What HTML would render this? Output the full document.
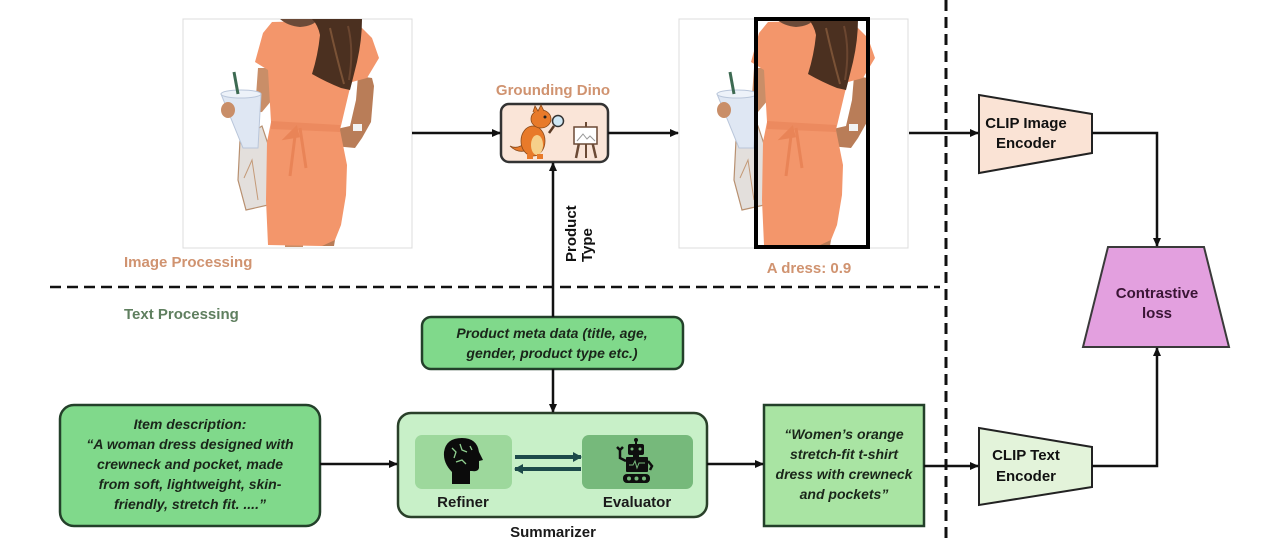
<!DOCTYPE html>
<html>
<head>
<meta charset="utf-8">
<style>
  html,body{margin:0;padding:0;background:#fff;}
  body{width:1280px;height:544px;overflow:hidden;}
  svg{display:block;}
  text{font-family:"Liberation Sans",Arial,sans-serif;font-weight:bold;}
</style>
</head>
<body>
<svg width="1280" height="544" viewBox="0 0 1280 544" xmlns="http://www.w3.org/2000/svg">
  <defs>
    <marker id="ah" markerWidth="9" markerHeight="8" refX="8" refY="4" orient="auto" markerUnits="userSpaceOnUse">
      <path d="M0,0 L9,4 L0,8 Z" fill="#111"/>
    </marker>
    <marker id="aht" markerWidth="9" markerHeight="10" refX="8" refY="5" orient="auto" markerUnits="userSpaceOnUse">
      <path d="M0,0 L9,5 L0,10 Z" fill="#1d4a4a"/>
    </marker>
    <g id="woman">
      <!-- bag -->
      <path d="M240,140 L262,126 L270,150 L268,205 L246,210 L238,180 Z" fill="#e3dfdc" stroke="#b89070" stroke-width="1.2"/>
      <path d="M244,178 L252,160 L258,200" fill="none" stroke="#c49a78" stroke-width="1"/>
      <!-- left upper arm / forearm -->
      <path d="M258,68 L270,68 L272,100 L262,112 L236,114 L234,102 L256,96 Z" fill="#c98e68"/>
      <!-- cup -->
      <path d="M221,94 L261,94 L258,148 L243,148 Z" fill="#dfe7f3" stroke="#b9c6da" stroke-width="1"/>
      <ellipse cx="241" cy="94" rx="20" ry="4" fill="#edf2f9" stroke="#b9c6da" stroke-width="1"/>
      <path d="M234,72 L238,94" stroke="#3d6a52" stroke-width="3"/>
      <ellipse cx="228" cy="110" rx="7" ry="8" fill="#c98e68"/>
      <!-- right arm -->
      <path d="M358,76 L372,78 L374,86 L371,122 L362,138 L355,148 L334,146 L332,130 L350,126 L356,100 Z" fill="#b97d58"/>
      <rect x="353" y="124" width="9" height="7" fill="#f2f2f2"/>
      <!-- legs -->
      <rect x="285" y="236" width="18" height="11" fill="#c98e68"/>
      <path d="M320,222 L338,222 L334,246 L321,246 Z" fill="#b97d58"/>
      <!-- dress -->
      <path d="M272,22 L263,33 L255,62 L268,70 L271,122 L267,142 L266,200 L268,245 L322,246 L335,240 L341,225 L346,195 L347,165 L340,130 L349,92 L352,82 L367,78 L379,58 L372,38 L362,28 L352,20 Z" fill="#f3966b"/>
      <!-- chin / face shadow -->
      <path d="M280,19 L318,19 Q314,26 300,27 Q288,26 280,19 Z" fill="#6b4a38"/>
      <!-- belt -->
      <path d="M271,121 L340,125 L340,132 L271,129 Z" fill="#ec8a5f"/>
      <path d="M296,128 L290,176 M300,128 L306,168 M296,128 L286,138 L298,136 Z" stroke="#e98457" stroke-width="3" fill="#e98457"/>
      <!-- hair -->
      <path d="M312,19 L362,19 Q362,40 357,62 Q353,78 350,90 L341,88 Q326,82 312,74 Q318,55 320,35 Q318,25 312,19 Z" fill="#4b3020"/>
      <path d="M330,28 Q336,55 344,84" stroke="#7a5236" stroke-width="2" fill="none"/>
      <path d="M348,26 Q354,50 349,80" stroke="#6b4630" stroke-width="2" fill="none"/>
    </g>
  </defs>

  <!-- dashed separators -->
  <line x1="50" y1="287" x2="940" y2="287" stroke="#111" stroke-width="2.5" stroke-dasharray="11 6"/>
  <line x1="946" y1="0" x2="946" y2="544" stroke="#111" stroke-width="3" stroke-dasharray="11 6"/>

  <!-- images -->
  <rect x="183" y="19" width="229" height="229" fill="#fff" stroke="#dcdcdc" stroke-width="1"/>
  <use href="#woman"/>
  <rect x="679" y="19" width="229" height="229" fill="#fff" stroke="#dcdcdc" stroke-width="1"/>
  <use href="#woman" transform="translate(496,0)"/>
  <rect x="756" y="19" width="112" height="228" fill="none" stroke="#000" stroke-width="4"/>

  <!-- labels -->
  <text x="124" y="267" font-size="15" fill="#d09370">Image Processing</text>
  <text x="124" y="319" font-size="15" fill="#5f7f5f">Text Processing</text>
  <text x="553" y="95" font-size="15" fill="#d09370" text-anchor="middle">Grounding Dino</text>
  <text x="809" y="273" font-size="15" fill="#d09370" text-anchor="middle">A dress: 0.9</text>

  <!-- dino box -->
  <rect x="501" y="104" width="107" height="58" rx="8" fill="#fae5d8" stroke="#333" stroke-width="2.5"/>
  <g>
    <path d="M528,150 Q518,154 510,146 Q518,150 526,142 Z" fill="#e87a2a" stroke="#8a4a1a" stroke-width="0.8"/>
    <ellipse cx="533" cy="141" rx="12" ry="15" fill="#e87a2a" stroke="#8a4a1a" stroke-width="0.8"/>
    <ellipse cx="537" cy="145" rx="6" ry="10" fill="#f6d08a"/>
    <ellipse cx="541" cy="119" rx="10" ry="9" fill="#e87a2a" stroke="#8a4a1a" stroke-width="0.8"/>
    <path d="M533,112 L535,106 L538,111 L541,105 L544,111" fill="#e87a2a" stroke="#8a4a1a" stroke-width="0.8"/>
    <circle cx="545" cy="117" r="1.5" fill="#222"/>
    <rect x="527" y="154" width="6" height="5" fill="#e87a2a"/>
    <rect x="537" y="154" width="6" height="5" fill="#e87a2a"/>
    <circle cx="558" cy="121" r="5.5" fill="#cfe8f5" stroke="#333" stroke-width="1.5"/>
    <line x1="554" y1="126" x2="549" y2="133" stroke="#5a3a25" stroke-width="2.5"/>
    <line x1="576" y1="158" x2="582" y2="128" stroke="#6b4a35" stroke-width="2.5"/>
    <line x1="596" y1="158" x2="589" y2="128" stroke="#6b4a35" stroke-width="2.5"/>
    <line x1="586" y1="122" x2="586" y2="158" stroke="#6b4a35" stroke-width="2"/>
    <rect x="574" y="127" width="23" height="17" fill="#fff" stroke="#6b4a35" stroke-width="1.5"/>
    <path d="M577,141 L583,134 L587,139 L590,136 L595,141" fill="none" stroke="#999" stroke-width="1"/>
  </g>

  <!-- Product Type rotated -->
  <text transform="translate(576,262) rotate(-90)" font-size="15" fill="#111">Product</text>
  <text transform="translate(592,262) rotate(-90)" font-size="15" fill="#111">Type</text>

  <!-- CLIP encoders -->
  <polygon points="979,95 1092,114 1092,153 979,173" fill="#fae3d5" stroke="#222" stroke-width="2"/>
  <text x="1026" y="128" font-size="15" fill="#111" text-anchor="middle">CLIP Image</text>
  <text x="1026" y="148" font-size="15" fill="#111" text-anchor="middle">Encoder</text>

  <polygon points="979,428 1092,447 1092,487 979,505" fill="#e3f3da" stroke="#222" stroke-width="2"/>
  <text x="1026" y="460" font-size="15" fill="#111" text-anchor="middle">CLIP Text</text>
  <text x="1026" y="481" font-size="15" fill="#111" text-anchor="middle">Encoder</text>

  <!-- Contrastive loss -->
  <polygon points="1108,247 1204,247 1229,347 1083,347" fill="#e3a0df" stroke="#3a3a3a" stroke-width="2"/>
  <text x="1157" y="298" font-size="15" fill="#3a1535" text-anchor="middle">Contrastive</text>
  <text x="1157" y="318" font-size="15" fill="#3a1535" text-anchor="middle">loss</text>

  <!-- Metadata box -->
  <rect x="422" y="317" width="261" height="52" rx="9" fill="#80d98b" stroke="#23402a" stroke-width="2.5"/>
  <text x="552" y="338" font-size="14" font-style="italic" fill="#1a261a" text-anchor="middle">Product meta data (title, age,</text>
  <text x="552" y="358" font-size="14" font-style="italic" fill="#1a261a" text-anchor="middle">gender, product type etc.)</text>

  <!-- Item description -->
  <rect x="60" y="405" width="260" height="121" rx="14" fill="#80d98b" stroke="#23402a" stroke-width="2.5"/>
  <g font-size="14" font-style="italic" fill="#1a261a" text-anchor="middle">
    <text x="190" y="429">Item description:</text>
    <text x="190" y="449">“A woman dress designed with</text>
    <text x="190" y="469">crewneck and pocket, made</text>
    <text x="190" y="489">from soft, lightweight, skin-</text>
    <text x="190" y="509">friendly, stretch fit.  ....”</text>
  </g>

  <!-- Summarizer -->
  <rect x="398" y="413" width="309" height="104" rx="13" fill="#c8f0c8" stroke="#2a402a" stroke-width="2.5"/>
  <rect x="415" y="435" width="97" height="54" rx="7" fill="#9dd89c"/>
  <rect x="582" y="435" width="111" height="54" rx="7" fill="#76b97b"/>
  <!-- head icon -->
  <path d="M452,484 L452,472 Q443,463 444,452 Q446,438 462,438 Q477,438 479,452 L483,460 L479,461 L479,468 Q478,472 472,471 L470,471 L470,484 Z" fill="#0b0b0b"/>
  <path d="M452,448 L456,452 L454,458 M460,444 L462,450 L467,452 M456,462 L462,460 L466,464 M470,446 L472,450" stroke="#8fcf8f" stroke-width="1.3" fill="none"/>
  <!-- robot icon -->
  <g fill="#0e0e0e">
    <line x1="636" y1="440" x2="636" y2="445" stroke="#0e0e0e" stroke-width="2"/>
    <circle cx="636" cy="440" r="2"/>
    <rect x="628" y="444" width="16" height="11" rx="2"/>
    <rect x="633" y="455" width="6" height="3"/>
    <rect x="626" y="457" width="22" height="15" rx="1"/>
    <path d="M626,461 L620,458 L620,450 L617,447 M620,450 L623,447" stroke="#0e0e0e" stroke-width="2.5" fill="none"/>
    <path d="M648,461 L652,466 L650,470" stroke="#0e0e0e" stroke-width="2.5" fill="none"/>
    <rect x="623" y="474" width="27" height="9" rx="4"/>
  </g>
  <circle cx="632" cy="449" r="1.5" fill="#76b97b"/>
  <circle cx="640" cy="449" r="1.5" fill="#76b97b"/>
  <path d="M629,465 L633,465 L635,461 L637,468 L639,463 L645,463" stroke="#76b97b" stroke-width="1" fill="none"/>
  <circle cx="629" cy="478.5" r="2" fill="#76b97b"/>
  <circle cx="636.5" cy="478.5" r="2" fill="#76b97b"/>
  <circle cx="644" cy="478.5" r="2" fill="#76b97b"/>

  <line x1="515" y1="457" x2="581" y2="457" stroke="#1d4a4a" stroke-width="4" marker-end="url(#aht)"/>
  <line x1="581" y1="469" x2="515" y2="469" stroke="#1d4a4a" stroke-width="4" marker-end="url(#aht)"/>

  <text x="463" y="507" font-size="15" fill="#1a1a1a" text-anchor="middle">Refiner</text>
  <text x="637" y="507" font-size="15" fill="#1a1a1a" text-anchor="middle">Evaluator</text>
  <text x="553" y="537" font-size="15" fill="#1a1a1a" text-anchor="middle">Summarizer</text>

  <!-- Result box -->
  <rect x="764" y="405" width="160" height="121" fill="#a9e4a3" stroke="#23402a" stroke-width="2.5"/>
  <g font-size="14" font-style="italic" fill="#1a261a" text-anchor="middle">
    <text x="844" y="439">“Women’s orange</text>
    <text x="844" y="459">stretch-fit t-shirt</text>
    <text x="844" y="479">dress with crewneck</text>
    <text x="844" y="499">and pockets”</text>
  </g>

  <!-- connectors -->
  <g stroke="#111" stroke-width="2.5" fill="none">
    <path d="M412,133 H500" marker-end="url(#ah)"/>
    <path d="M608,133 H678" marker-end="url(#ah)"/>
    <path d="M553,317 V163" marker-end="url(#ah)"/>
    <path d="M909,133 H978" marker-end="url(#ah)"/>
    <path d="M1092,133 H1157 V246" marker-end="url(#ah)"/>
    <path d="M553,369 V412" marker-end="url(#ah)"/>
    <path d="M320,464 H397" marker-end="url(#ah)"/>
    <path d="M707,464 H763" marker-end="url(#ah)"/>
    <path d="M924,466 H978" marker-end="url(#ah)"/>
    <path d="M1092,466 H1157 V348" marker-end="url(#ah)"/>
  </g>
</svg>
</body>
</html>
